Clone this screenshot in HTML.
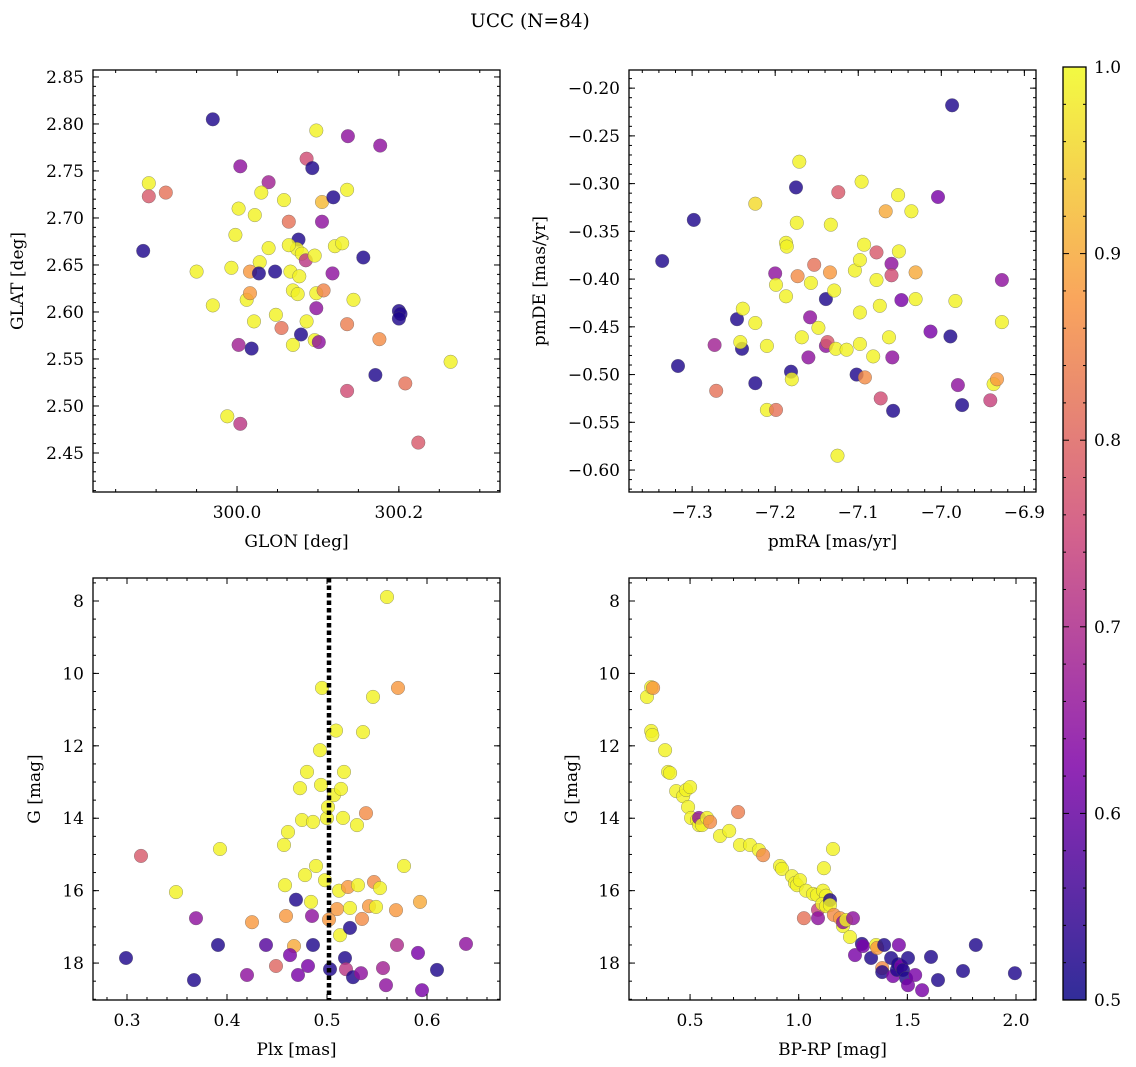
<!DOCTYPE html>
<html><head><meta charset="utf-8"><style>
html,body{margin:0;padding:0;background:#fff;}
svg{display:block;font-family:"DejaVu Serif","Liberation Serif",serif;}
</style></head><body>
<svg id="fig" width="1136" height="1067" viewBox="0 0 1136 1067" xmlns="http://www.w3.org/2000/svg">
<text x="530" y="27" font-size="18.5" text-anchor="middle">UCC (N=84)</text>
</svg>
<script>
// Panel 1: GLON vs GLAT
const glonA = [299.970,299.884,299.891,299.891,299.912,299.950,299.970,299.993,299.998,300.002,300.004,300.039,300.030,300.022,300.012,300.016,300.016,300.028,300.027,300.021,300.018,300.002,299.988,300.004,300.039,300.048,300.055,300.047,300.058,300.064,300.069,300.076,300.074,300.079,300.064,300.066,300.069,300.075,300.077,300.080,300.085,300.086,300.093,300.098,300.105,300.105,300.096,300.098,300.098,300.086,300.096,300.101,300.107,300.119,300.121,300.130,300.118,300.137,300.136,300.144,300.136,300.156,300.177,300.176,300.200,300.202,300.200,300.171,300.208,300.136,300.224,300.264];
const glatA = [2.805,2.665,2.737,2.723,2.727,2.643,2.607,2.647,2.682,2.710,2.755,2.738,2.727,2.703,2.613,2.620,2.643,2.653,2.641,2.590,2.561,2.565,2.489,2.481,2.668,2.597,2.583,2.643,2.719,2.696,2.565,2.677,2.667,2.576,2.671,2.643,2.623,2.619,2.638,2.662,2.655,2.763,2.753,2.793,2.717,2.696,2.660,2.620,2.604,2.590,2.570,2.568,2.623,2.722,2.670,2.673,2.641,2.787,2.730,2.613,2.587,2.658,2.777,2.571,2.601,2.598,2.593,2.533,2.524,2.516,2.461,2.547];
const probA = [0.52,0.52,0.99,0.78,0.82,0.99,0.99,0.99,0.99,0.99,0.65,0.68,0.99,0.99,0.99,0.88,0.88,0.99,0.52,0.99,0.52,0.68,0.99,0.72,0.99,0.99,0.82,0.52,0.99,0.82,0.99,0.52,0.99,0.52,0.99,0.99,0.99,0.99,0.99,0.99,0.72,0.76,0.52,0.99,0.92,0.65,0.99,0.99,0.65,0.99,0.99,0.65,0.85,0.52,0.99,0.99,0.65,0.65,0.99,0.99,0.84,0.52,0.65,0.86,0.52,0.52,0.52,0.52,0.82,0.76,0.78,0.99];
// Panel 2: pmRA vs pmDE
const pmraB = [-7.336,-7.298,-7.317,-7.271,-7.273,-7.246,-7.240,-7.242,-7.239,-7.224,-7.224,-7.224,-7.210,-7.199,-7.210,-7.200,-7.199,-7.187,-7.187,-7.186,-7.181,-7.180,-7.175,-7.171,-7.174,-7.173,-7.168,-7.160,-7.158,-7.157,-7.153,-7.148,-7.139,-7.139,-7.137,-7.134,-7.133,-7.129,-7.127,-7.124,-7.125,-7.114,-7.102,-7.104,-7.098,-7.098,-7.098,-7.093,-7.096,-7.092,-7.082,-7.078,-7.078,-7.074,-7.073,-7.067,-7.060,-7.060,-7.063,-7.059,-7.058,-7.052,-7.051,-7.048,-7.036,-7.031,-7.031,-7.013,-7.004,-6.989,-6.987,-6.983,-6.980,-6.975,-6.941,-6.937,-6.933,-6.927,-6.927];
const pmdeB = [-0.381,-0.338,-0.491,-0.517,-0.469,-0.442,-0.473,-0.466,-0.431,-0.509,-0.321,-0.446,-0.537,-0.537,-0.470,-0.394,-0.406,-0.362,-0.418,-0.366,-0.497,-0.505,-0.304,-0.277,-0.341,-0.397,-0.461,-0.482,-0.440,-0.404,-0.385,-0.451,-0.421,-0.470,-0.466,-0.393,-0.343,-0.412,-0.473,-0.309,-0.585,-0.474,-0.500,-0.391,-0.380,-0.435,-0.468,-0.364,-0.298,-0.503,-0.481,-0.372,-0.401,-0.428,-0.525,-0.329,-0.384,-0.396,-0.461,-0.482,-0.538,-0.312,-0.371,-0.422,-0.329,-0.393,-0.421,-0.455,-0.314,-0.460,-0.218,-0.423,-0.511,-0.532,-0.527,-0.510,-0.505,-0.401,-0.445];
const probB = [0.52,0.52,0.52,0.82,0.68,0.52,0.52,0.99,0.99,0.52,0.96,0.99,0.99,0.82,0.99,0.65,0.99,0.99,0.99,0.99,0.52,0.99,0.52,0.99,0.99,0.86,0.99,0.65,0.65,0.99,0.82,0.99,0.52,0.65,0.78,0.88,0.99,0.99,0.99,0.78,0.99,0.99,0.52,0.99,0.99,0.99,0.99,0.99,0.99,0.86,0.99,0.78,0.99,0.99,0.76,0.90,0.65,0.76,0.99,0.65,0.52,0.99,0.99,0.62,0.99,0.90,0.99,0.62,0.62,0.52,0.52,0.99,0.65,0.52,0.74,0.99,0.88,0.65,0.99];
// Panel 3: Plx vs G
const plxC = [0.299,0.314,0.349,0.369,0.367,0.391,0.393,0.420,0.425,0.439,0.449,0.471,0.475,0.469,0.467,0.463,0.457,0.461,0.458,0.459,0.473,0.478,0.480,0.481,0.484,0.486,0.485,0.486,0.489,0.493,0.495,0.494,0.498,0.500,0.501,0.503,0.502,0.507,0.509,0.510,0.512,0.513,0.514,0.516,0.517,0.518,0.519,0.521,0.523,0.523,0.526,0.530,0.531,0.534,0.535,0.536,0.539,0.542,0.546,0.547,0.549,0.553,0.556,0.559,0.560,0.569,0.570,0.571,0.577,0.591,0.593,0.595,0.610,0.639];
const gC = [17.86,15.04,16.04,16.76,18.47,17.50,14.85,18.33,16.87,17.50,18.08,18.33,14.05,16.25,17.53,17.78,14.74,14.38,15.85,16.70,13.17,15.57,12.72,18.08,16.31,17.50,16.70,14.10,15.32,12.12,10.40,13.08,15.71,14.00,13.69,18.17,16.80,13.36,11.58,16.51,16.00,17.23,13.19,13.99,12.72,17.86,18.17,15.90,17.03,16.48,18.39,14.19,15.85,18.28,16.78,11.62,13.86,16.43,10.65,15.76,16.45,15.93,18.14,18.61,7.89,16.54,17.50,10.40,15.32,17.72,16.31,18.75,18.19,17.47];
const probC = [0.52,0.78,0.99,0.65,0.52,0.52,0.99,0.65,0.88,0.58,0.80,0.62,0.99,0.52,0.90,0.62,0.99,0.99,0.99,0.88,0.99,0.99,0.99,0.62,0.99,0.52,0.65,0.99,0.99,0.99,0.99,0.99,0.99,0.99,0.99,0.52,0.88,0.99,0.99,0.88,0.99,0.99,0.99,0.99,0.99,0.52,0.72,0.88,0.52,0.99,0.52,0.99,0.99,0.65,0.86,0.99,0.86,0.88,0.99,0.86,0.99,0.99,0.68,0.65,0.99,0.88,0.70,0.88,0.99,0.62,0.90,0.62,0.52,0.65];
// Panel 4: BP-RP vs G
const bprpD = [0.302,0.321,0.330,0.321,0.326,0.385,0.399,0.408,0.436,0.468,0.482,0.500,0.491,0.505,0.532,0.541,0.541,0.555,0.578,0.592,0.638,0.680,0.721,0.730,0.776,0.817,0.836,0.914,0.923,0.969,0.983,0.992,1.006,1.024,1.034,1.066,1.084,1.089,1.089,1.112,1.116,1.126,1.108,1.126,1.144,1.144,1.158,1.162,1.190,1.204,1.204,1.218,1.236,1.250,1.259,1.291,1.296,1.333,1.356,1.361,1.384,1.384,1.393,1.425,1.434,1.452,1.457,1.461,1.471,1.480,1.494,1.503,1.503,1.536,1.568,1.609,1.641,1.756,1.815,1.995];
const gD = [10.65,10.38,10.40,11.59,11.70,12.12,12.72,12.75,13.25,13.39,13.22,13.14,13.69,13.99,14.05,14.19,13.99,14.19,13.99,14.10,14.49,14.35,13.83,14.74,14.74,14.88,15.02,15.32,15.40,15.60,15.79,15.85,15.71,16.76,16.00,16.09,16.12,16.53,16.76,16.00,15.38,16.14,16.37,16.43,16.26,16.40,14.85,16.67,16.76,16.98,16.87,16.81,17.28,16.76,17.78,17.47,17.53,17.86,17.50,17.58,18.14,18.25,17.50,17.86,18.36,18.19,18.03,17.50,18.08,18.19,18.42,17.86,18.61,18.33,18.75,17.83,18.47,18.22,17.50,18.28];
const probD = [0.99,0.99,0.88,0.99,0.99,0.99,0.99,0.99,0.99,0.99,0.99,0.99,0.99,0.99,0.99,0.99,0.65,0.99,0.99,0.86,0.99,0.99,0.84,0.99,0.99,0.99,0.86,0.99,0.99,0.99,0.99,0.99,0.99,0.82,0.99,0.99,0.99,0.74,0.65,0.99,0.99,0.99,0.99,0.99,0.52,0.99,0.99,0.86,0.88,0.99,0.65,0.99,0.99,0.65,0.62,0.52,0.62,0.52,0.99,0.88,0.86,0.52,0.52,0.52,0.62,0.52,0.52,0.62,0.62,0.52,0.52,0.52,0.62,0.62,0.62,0.52,0.52,0.52,0.52,0.52];
// colorbar ticks
const cbTicks = [0.5,0.6,0.7,0.8,0.9,1.0];

const NS = "http://www.w3.org/2000/svg";
const svg = document.getElementById('fig');
function mk(tag, attrs, parent){ const e=document.createElementNS(NS,tag); for(const k in attrs) e.setAttribute(k,attrs[k]); (parent||svg).appendChild(e); return e; }
const stops=[[0,[13,8,135]],[0.25,[126,3,168]],[0.5,[204,71,120]],[0.75,[248,149,64]],[1,[240,249,33]]];
function plasma(t){ t=Math.max(0,Math.min(1,t)); for(let i=1;i<stops.length;i++){ if(t<=stops[i][0]){ const a=stops[i-1],b=stops[i],f=(t-a[0])/(b[0]-a[0]); const c=a[1].map((v,j)=>Math.round(v+(b[1][j]-v)*f)); return `rgb(${c[0]},${c[1]},${c[2]})`; } } return 'rgb(240,249,33)'; }
function cmap(p){ return plasma((p-0.5)/0.5); }
function fmt(v,d){ const s=Math.abs(v).toFixed(d); return (v<-1e-9?'\u2212':'')+s; }
const TF=17, LF=17;

function panel(o){
  const g=mk('g',{});
  
  
  const sx=v=>o.x0+(v-o.xmin)/(o.xmax-o.xmin)*(o.x1-o.x0);
  const sy=o.invert? (v=>o.y0+(v-o.ymin)/(o.ymax-o.ymin)*(o.y1-o.y0)) : (v=>o.y1-(v-o.ymin)/(o.ymax-o.ymin)*(o.y1-o.y0));
  for(let i=0;i<o.xs.length;i++){
    const c=mk('circle',{cx:sx(o.xs[i]).toFixed(1),cy:sy(o.ys[i]).toFixed(1),r:6.8,fill:cmap(o.ps[i]),'fill-opacity':0.82,stroke:'#555','stroke-width':0.5,'stroke-opacity':0.6},g);
    
    
  }
  if(o.extra) o.extra(g,sx,sy);
  const fr=mk('rect',{x:o.x0,y:o.y0,width:o.x1-o.x0,height:o.y1-o.y0,fill:'none',stroke:'#000','stroke-width':1.3},g);
  
  
  function ticksX(step,len,labels,dec){
    const s=Math.ceil(o.xmin/step-1e-6);
    for(let k=s;k*step<=o.xmax+1e-9;k++){ const v=k*step,x=sx(v);
      mk('line',{x1:x,x2:x,y1:o.y1,y2:o.y1-len,stroke:'#000','stroke-width':1},g);
      mk('line',{x1:x,x2:x,y1:o.y0,y2:o.y0+len,stroke:'#000','stroke-width':1},g);
      if(labels){ const t=mk('text',{x:x,y:o.y1+26,'font-size':TF,'text-anchor':'middle'},g); t.textContent=fmt(v,dec);
          }
    }
  }
  function ticksY(step,len,labels,dec){
    const lo=Math.min(o.ymin,o.ymax),hi=Math.max(o.ymin,o.ymax);
    const s=Math.ceil(lo/step-1e-6);
    for(let k=s;k*step<=hi+1e-9;k++){ const v=k*step,y=sy(v);
      mk('line',{x1:o.x0,x2:o.x0+len,y1:y,y2:y,stroke:'#000','stroke-width':1},g);
      mk('line',{x1:o.x1,x2:o.x1-len,y1:y,y2:y,stroke:'#000','stroke-width':1},g);
      if(labels){ const t=mk('text',{x:o.x0-9,y:y+6,'font-size':TF,'text-anchor':'end'},g); t.textContent=fmt(v,dec);
          }
    }
  }
  ticksX(o.xmaj,6,true,o.xdec); ticksX(o.xmin_,3,false);
  ticksY(o.ymaj,6,true,o.ydec); ticksY(o.ymin_,3,false);
  const xl=mk('text',{x:(o.x0+o.x1)/2,y:o.y1+55,'font-size':LF,'text-anchor':'middle'},g); xl.textContent=o.xlabel;
   
  const yx=o.ylx, yy=(o.y0+o.y1)/2;
  const yl=mk('text',{x:yx,y:yy,'font-size':LF,'text-anchor':'middle',transform:`rotate(-90 ${yx} ${yy})`},g); yl.textContent=o.ylabel;
   
}

panel({name:'glon-glat-panel',xs:glonA,ys:glatA,ps:probA,x0:93,x1:500,y0:70,y1:492,xmin:299.822,xmax:300.325,ymin:2.4085,ymax:2.8574,xmaj:0.2,xmin_:0.05,ymaj:0.05,ymin_:0.01,xdec:1,ydec:2,xlabel:'GLON [deg]',ylabel:'GLAT [deg]',ylx:23});
panel({name:'pm-panel',xs:pmraB,ys:pmdeB,ps:probB,x0:629,x1:1036,y0:70,y1:492,xmin:-7.376,xmax:-6.886,ymin:-0.623,ymax:-0.181,xmaj:0.1,xmin_:0.02,ymaj:0.05,ymin_:0.01,xdec:1,ydec:2,xlabel:'pmRA [mas/yr]',ylabel:'pmDE [mas/yr]',ylx:545});
panel({name:'plx-g-panel',xs:plxC,ys:gC,ps:probC,x0:93,x1:500,y0:578,y1:1000,xmin:0.266,xmax:0.673,ymin:7.365,ymax:19.02,invert:true,xmaj:0.1,xmin_:0.02,ymaj:2,ymin_:0.5,xdec:1,ydec:0,xlabel:'Plx [mas]',ylabel:'G [mag]',ylx:40,
  extra:(g,sx,sy)=>{ const x=sx(0.502); const l=mk('line',{x1:x,x2:x,y1:578,y2:1000,stroke:'#000','stroke-width':4.5,'stroke-dasharray':'4.5 3'},g);
      }});
panel({name:'cmd-panel',xs:bprpD,ys:gD,ps:probD,x0:629,x1:1036,y0:578,y1:1000,xmin:0.219,xmax:2.092,ymin:7.365,ymax:19.02,invert:true,xmaj:0.5,xmin_:0.1,ymaj:2,ymin_:0.5,xdec:1,ydec:0,xlabel:'BP-RP [mag]',ylabel:'G [mag]',ylx:577});

const cb=mk('g',{});


const defs=mk('defs',{},cb);
const lg=mk('linearGradient',{id:'cbg',x1:0,y1:1,x2:0,y2:0},defs);
for(let i=0;i<=20;i++){ mk('stop',{offset:(i/20),'stop-color':plasma(i/20),'stop-opacity':0.85},lg); }
const cbx0=1063,cbx1=1086,cby0=67,cby1=1000;
mk('rect',{x:cbx0,y:cby0,width:cbx1-cbx0,height:cby1-cby0,fill:'url(#cbg)',stroke:'#000','stroke-width':1.3},cb);
const cy=v=>cby1-(v-0.5)/0.5*(cby1-cby0);
for(let k=0;k<=25;k++){ const v=0.5+k*0.02,y=cy(v); const maj=(k%5===0);
  mk('line',{x1:cbx1,x2:cbx1-(maj?6:3),y1:y,y2:y,stroke:'#000','stroke-width':1},cb);
  mk('line',{x1:cbx0,x2:cbx0+(maj?6:3),y1:y,y2:y,stroke:'#000','stroke-width':1},cb); }
cbTicks.forEach(v=>{ const t=mk('text',{x:1094,y:cy(v)+6,'font-size':TF},cb); t.textContent=v.toFixed(1);
    });
</script>
</body></html>
